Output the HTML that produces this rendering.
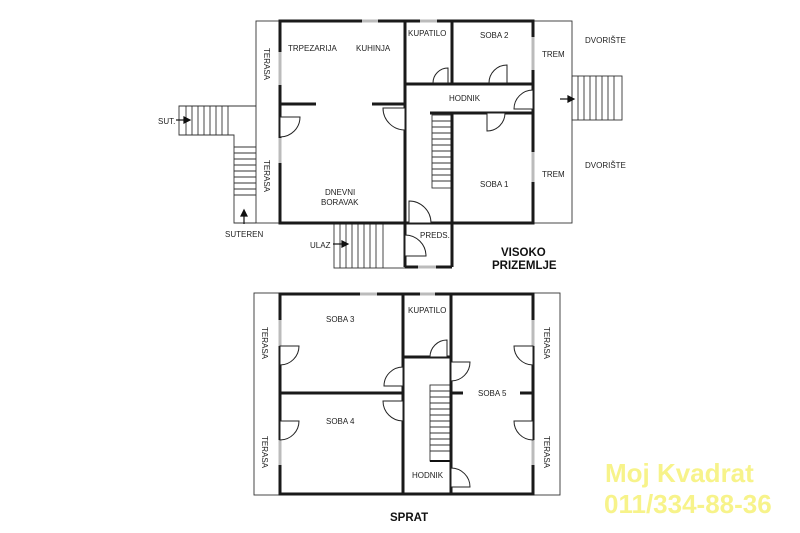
<!DOCTYPE html>
<html><head><meta charset="utf-8"><style>
html,body{margin:0;padding:0;background:#fff;width:800px;height:533px;overflow:hidden}
svg{display:block}
text{font-family:"Liberation Sans",sans-serif;font-size:8px;fill:#222}
.w{stroke:#1a1a1a;stroke-width:3;fill:none}
.t{stroke:#333;stroke-width:0.9;fill:none}
.d{stroke:#222;stroke-width:1;fill:#fff}
.win{stroke:#bbb;stroke-width:3}
</style></head><body>
<svg width="800" height="533" viewBox="0 0 800 533">
<rect x="256" y="21" width="24" height="202" class="t"/>
<rect x="533" y="21" width="39" height="202" class="t"/>
<path class="t" d="M256,106 L179,106 L179,135 L234,135 L234,223 L256,223"/>
<g class="t">
<line x1="186" y1="106" x2="186" y2="135"/><line x1="192" y1="106" x2="192" y2="135"/><line x1="198" y1="106" x2="198" y2="135"/><line x1="204" y1="106" x2="204" y2="135"/><line x1="210" y1="106" x2="210" y2="135"/><line x1="216" y1="106" x2="216" y2="135"/><line x1="222" y1="106" x2="222" y2="135"/><line x1="228" y1="106" x2="228" y2="135"/>
<line x1="234" y1="147" x2="256" y2="147"/><line x1="234" y1="153" x2="256" y2="153"/><line x1="234" y1="159" x2="256" y2="159"/><line x1="234" y1="165" x2="256" y2="165"/><line x1="234" y1="171" x2="256" y2="171"/><line x1="234" y1="177" x2="256" y2="177"/><line x1="234" y1="183" x2="256" y2="183"/><line x1="234" y1="189" x2="256" y2="189"/><line x1="234" y1="195" x2="256" y2="195"/>
</g>
<rect x="334" y="223" width="71" height="45" class="t"/>
<g class="t">
<line x1="340" y1="223" x2="340" y2="268"/><line x1="346" y1="223" x2="346" y2="268"/><line x1="352" y1="223" x2="352" y2="268"/><line x1="358" y1="223" x2="358" y2="268"/><line x1="364" y1="223" x2="364" y2="268"/><line x1="370" y1="223" x2="370" y2="268"/><line x1="376" y1="223" x2="376" y2="268"/><line x1="383" y1="223" x2="383" y2="268"/>
</g>
<rect x="572" y="76" width="50" height="44" class="t"/>
<g class="t">
<line x1="578" y1="76" x2="578" y2="120"/><line x1="584" y1="76" x2="584" y2="120"/><line x1="590" y1="76" x2="590" y2="120"/><line x1="596" y1="76" x2="596" y2="120"/><line x1="602" y1="76" x2="602" y2="120"/><line x1="608" y1="76" x2="608" y2="120"/><line x1="614" y1="76" x2="614" y2="120"/>
</g>
<rect x="432" y="115" width="20" height="73" class="t"/>
<g class="t">
<line x1="432" y1="121" x2="452" y2="121"/><line x1="432" y1="127" x2="452" y2="127"/><line x1="432" y1="133" x2="452" y2="133"/><line x1="432" y1="139" x2="452" y2="139"/><line x1="432" y1="145" x2="452" y2="145"/><line x1="432" y1="151" x2="452" y2="151"/><line x1="432" y1="157" x2="452" y2="157"/><line x1="432" y1="163" x2="452" y2="163"/><line x1="432" y1="169" x2="452" y2="169"/><line x1="432" y1="175" x2="452" y2="175"/><line x1="432" y1="181" x2="452" y2="181"/>
</g>
<rect x="280" y="21" width="253" height="202" class="w"/>
<g class="w">
<line x1="405" y1="21" x2="405" y2="267"/>
<line x1="452" y1="21" x2="452" y2="84"/>
<line x1="405" y1="84" x2="533" y2="84"/>
<line x1="430" y1="113" x2="533" y2="113"/>
<line x1="452" y1="113" x2="452" y2="267"/>
<line x1="405" y1="267" x2="452" y2="267"/>
<line x1="280" y1="104" x2="316" y2="104"/>
<line x1="372" y1="104" x2="405" y2="104"/>
</g>
<g class="win">
<line x1="362" y1="21" x2="378" y2="21"/><line x1="420" y1="21" x2="437" y2="21"/>
<line x1="280" y1="52" x2="280" y2="85"/><line x1="280" y1="138" x2="280" y2="163"/>
<line x1="533" y1="37" x2="533" y2="70"/><line x1="533" y1="152" x2="533" y2="182"/>
<line x1="418" y1="267" x2="436" y2="267"/>
</g>
<g class="d">
<path d="M448,83 L448,68 A15,15 0 0 0 433,83 Z"/>
<path d="M507,83 L507,65 A18,18 0 0 0 489,83 Z"/>
<path d="M533,109 L533,90 A19,19 0 0 0 514,109 Z"/>
<path d="M487,113 L487,131 A18,18 0 0 0 505,113 Z"/>
<path d="M280,117 L300,117 A20,20 0 0 1 280,137 Z"/>
<path d="M405,108 L383,108 A22,22 0 0 0 405,130 Z"/>
<path d="M409,223 L409,201 A22,22 0 0 1 431,223 Z"/>
<path d="M405,256 L426,256 A21,21 0 0 0 405,235 Z"/>
</g>
<g stroke="#111" stroke-width="1.2" fill="#111">
<line x1="176" y1="120" x2="186" y2="120"/><path d="M190,120 L184,117 L184,123 Z"/>
<line x1="244" y1="224" x2="244" y2="214"/><path d="M244,210 L241,216 L247,216 Z"/>
<line x1="333" y1="244" x2="345" y2="244"/><path d="M348,244 L342,241 L342,247 Z"/>
<line x1="560" y1="99" x2="570" y2="99"/><path d="M574,99 L568,96 L568,102 Z"/>
</g>
<text x="288" y="51">TRPEZARIJA</text>
<text x="356" y="51">KUHINJA</text>
<text x="408" y="36">KUPATILO</text>
<text x="480" y="38">SOBA 2</text>
<text x="449" y="101">HODNIK</text>
<text x="480" y="187">SOBA 1</text>
<text x="542" y="57">TREM</text>
<text x="542" y="177">TREM</text>
<text x="585" y="43">DVORIŠTE</text>
<text x="585" y="168">DVORIŠTE</text>
<text x="325" y="195">DNEVNI</text>
<text x="321" y="205">BORAVAK</text>
<text x="420" y="238">PREDS.</text>
<text x="310" y="248">ULAZ</text>
<text x="158" y="124">SUT.</text>
<text x="225" y="237">SUTEREN</text>
<text transform="translate(264,48) rotate(90)">TERASA</text>
<text transform="translate(264,160) rotate(90)">TERASA</text>
<text x="501" y="256" style="font-size:11.5px;font-weight:bold;fill:#111">VISOKO</text>
<text x="492" y="269" style="font-size:11.5px;font-weight:bold;fill:#111">PRIZEMLJE</text>

<rect x="254" y="293" width="26" height="202" class="t"/>
<rect x="533" y="293" width="27" height="202" class="t"/>
<rect x="430" y="385" width="21" height="76" class="t"/>
<g class="t">
<line x1="430" y1="391" x2="451" y2="391"/><line x1="430" y1="397" x2="451" y2="397"/><line x1="430" y1="403" x2="451" y2="403"/><line x1="430" y1="409" x2="451" y2="409"/><line x1="430" y1="415" x2="451" y2="415"/><line x1="430" y1="421" x2="451" y2="421"/><line x1="430" y1="427" x2="451" y2="427"/><line x1="430" y1="433" x2="451" y2="433"/><line x1="430" y1="439" x2="451" y2="439"/><line x1="430" y1="445" x2="451" y2="445"/><line x1="430" y1="451" x2="451" y2="451"/>
</g>
<line x1="430" y1="461" x2="451" y2="461" stroke="#111" stroke-width="2"/>
<rect x="280" y="294" width="253" height="200" class="w"/>
<g class="w">
<line x1="403" y1="294" x2="403" y2="494"/>
<line x1="451" y1="294" x2="451" y2="494"/>
<line x1="403" y1="357" x2="451" y2="357"/>
<line x1="280" y1="393" x2="403" y2="393"/>
<line x1="451" y1="393" x2="463" y2="393"/>
<line x1="520" y1="393" x2="533" y2="393"/>
</g>
<g class="win">
<line x1="360" y1="294" x2="377" y2="294"/><line x1="420" y1="294" x2="435" y2="294"/>
<line x1="280" y1="320" x2="280" y2="346"/><line x1="280" y1="440" x2="280" y2="465"/>
<line x1="533" y1="320" x2="533" y2="346"/><line x1="533" y1="440" x2="533" y2="465"/>
</g>
<g class="d">
<path d="M280,346 L299,346 A19,19 0 0 1 280,365 Z"/>
<path d="M280,421 L299,421 A19,19 0 0 1 280,440 Z"/>
<path d="M403,367 A19,19 0 0 0 384,386 L403,386 Z"/>
<path d="M403,401 L383,401 A20,20 0 0 0 403,421 Z"/>
<path d="M447,357 L447,340 A17,17 0 0 0 430,357 Z"/>
<path d="M451,362 L470,362 A19,19 0 0 1 451,381 Z"/>
<path d="M451,468 A19,19 0 0 1 470,487 L451,487 Z"/>
<path d="M533,346 L514,346 A19,19 0 0 0 533,365 Z"/>
<path d="M533,421 L514,421 A19,19 0 0 0 533,440 Z"/>
</g>
<text x="326" y="322">SOBA 3</text>
<text x="326" y="424">SOBA 4</text>
<text x="408" y="313">KUPATILO</text>
<text x="478" y="396">SOBA 5</text>
<text x="412" y="478">HODNIK</text>
<text transform="translate(262,327) rotate(90)">TERASA</text>
<text transform="translate(262,436) rotate(90)">TERASA</text>
<text transform="translate(544,327) rotate(90)">TERASA</text>
<text transform="translate(544,436) rotate(90)">TERASA</text>
<text x="390" y="521" style="font-size:11.5px;font-weight:bold;fill:#111">SPRAT</text>

<text x="605" y="482" style="font-size:26px;font-weight:bold;fill:#f7f38a">Moj Kvadrat</text>
<text x="604" y="513" style="font-size:26px;font-weight:bold;fill:#f7f38a">011/334-88-36</text>
</svg>
</body></html>
